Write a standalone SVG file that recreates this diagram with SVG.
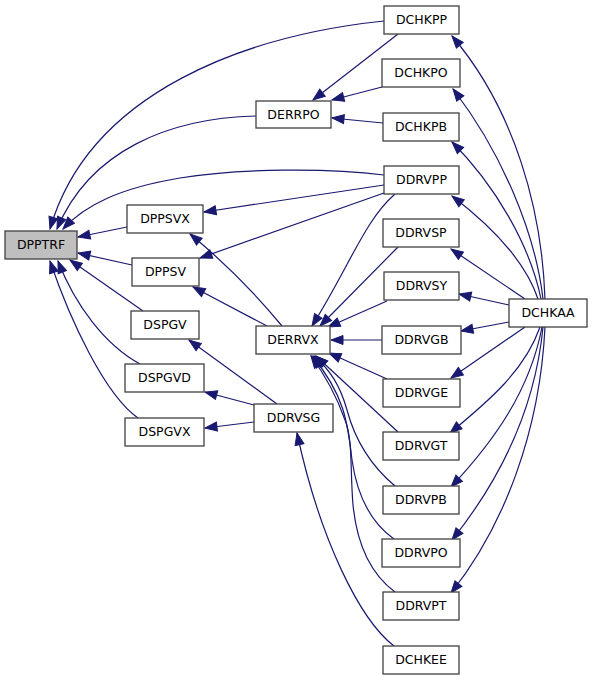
<svg xmlns="http://www.w3.org/2000/svg" width="592" height="680" viewBox="0 0 592 680">
<defs>
<style>
.n rect{fill:#ffffff;stroke:#404040;stroke-width:1.3}
.n text{font-family:"DejaVu Sans","Liberation Sans",sans-serif;font-size:12.5px;fill:#000;text-anchor:middle}
#n_DPPTRF rect{fill:#bfbfbf}
.e path{fill:none;stroke:#191970;stroke-width:1.2;marker-end:url(#ah)}
</style>
<marker id="ah" markerUnits="userSpaceOnUse" markerWidth="14" markerHeight="10" refX="12" refY="5" orient="auto" viewBox="0 0 14 10" overflow="visible">
<path d="M0,0.5 L12,5 L0,9.5 z" fill="#191970" stroke="#191970" stroke-width="1"/>
</marker>
</defs>
<rect width="592" height="680" fill="#ffffff"/>
<g id="edges" class="e">
<path d="M384,21 C250,35 90,90 50,229"/>
<path d="M256,116 C170,118 90,150 57,229"/>
<path d="M384,175 C330,168 240,168 180,178 C120,188 85,205 63,229"/>
<path d="M127,227 L78,237"/>
<path d="M132,265 L78,253"/>
<path d="M143,311 L70,260"/>
<path d="M140,364 C105,345 75,305 58,261"/>
<path d="M138,418 C105,395 70,320 50,261"/>
<path d="M398,34 L313,100"/>
<path d="M382,87 L332,100"/>
<path d="M383,123 L332,118"/>
<path d="M384,185 L204,212"/>
<path d="M282,326 Q240,275 190,234"/>
<path d="M384,193 L200,258"/>
<path d="M267,326 L193,287"/>
<path d="M277,404 L189,340"/>
<path d="M254,405 L205,392"/>
<path d="M254,422 L205,428"/>
<path d="M395,194 C365,220 350,265 312,326"/>
<path d="M398,247 L320,326"/>
<path d="M387,301 L328,327"/>
<path d="M382,340 L331,340"/>
<path d="M387,379 L329,353"/>
<path d="M398,432 L316,356"/>
<path d="M395,486 C370,465 355,440 347,410 C340,385 330,370 314,356"/>
<path d="M394,539 C370,522 357,495 352,460 C348,425 345,395 312,356"/>
<path d="M395,592 C372,575 357,545 353,505 C350,470 353,440 345,420 C338,400 325,375 311,356"/>
<path d="M394,646 C360,620 320,540 297,433"/>
<path d="M545,299 C542,210 515,110 452,36"/>
<path d="M543,299 C535,230 500,150 453,89"/>
<path d="M541,299 C530,245 495,185 452,142"/>
<path d="M538,299 C525,260 490,225 452,196"/>
<path d="M525,299 L451,249"/>
<path d="M509,305 L459,294"/>
<path d="M509,322 L461,331"/>
<path d="M525,327 L451,378"/>
<path d="M540,327 C525,370 490,400 450,433"/>
<path d="M542,327 C530,390 495,440 451,487"/>
<path d="M543,327 C535,410 500,480 452,540"/>
<path d="M545,327 C540,430 505,525 451,593"/>
</g>
<g id="n_DPPTRF" class="n"><rect x="5" y="231" width="72" height="28"/><text x="41" y="249">DPPTRF</text></g>
<g id="n_DPPSVX" class="n"><rect x="127" y="205" width="76" height="28"/><text x="165" y="223">DPPSVX</text></g>
<g id="n_DPPSV" class="n"><rect x="132" y="258" width="67" height="28"/><text x="165.5" y="276">DPPSV</text></g>
<g id="n_DSPGV" class="n"><rect x="131" y="311" width="68" height="28"/><text x="165" y="329">DSPGV</text></g>
<g id="n_DSPGVD" class="n"><rect x="125" y="364" width="79" height="28"/><text x="164.5" y="382">DSPGVD</text></g>
<g id="n_DSPGVX" class="n"><rect x="125" y="418" width="79" height="28"/><text x="164.5" y="436">DSPGVX</text></g>
<g id="n_DERRPO" class="n"><rect x="256" y="101" width="75" height="27"/><text x="293.5" y="118.5">DERRPO</text></g>
<g id="n_DERRVX" class="n"><rect x="256" y="326" width="74" height="28"/><text x="293" y="344">DERRVX</text></g>
<g id="n_DDRVSG" class="n"><rect x="254" y="404" width="79" height="28"/><text x="293.5" y="422">DDRVSG</text></g>
<g id="n_DCHKPP" class="n"><rect x="384" y="6" width="75" height="28"/><text x="421.5" y="24">DCHKPP</text></g>
<g id="n_DCHKPO" class="n"><rect x="382" y="59" width="78" height="28"/><text x="421" y="77">DCHKPO</text></g>
<g id="n_DCHKPB" class="n"><rect x="383" y="113" width="76" height="28"/><text x="421" y="131">DCHKPB</text></g>
<g id="n_DDRVPP" class="n"><rect x="384" y="166" width="75" height="28"/><text x="421.5" y="184">DDRVPP</text></g>
<g id="n_DDRVSP" class="n"><rect x="383" y="219" width="76" height="28"/><text x="421" y="237">DDRVSP</text></g>
<g id="n_DDRVSY" class="n"><rect x="384" y="272" width="75" height="28"/><text x="421.5" y="290">DDRVSY</text></g>
<g id="n_DDRVGB" class="n"><rect x="382" y="326" width="79" height="28"/><text x="421.5" y="344">DDRVGB</text></g>
<g id="n_DDRVGE" class="n"><rect x="383" y="379" width="77" height="28"/><text x="421.5" y="397">DDRVGE</text></g>
<g id="n_DDRVGT" class="n"><rect x="383" y="432" width="76" height="28"/><text x="421" y="450">DDRVGT</text></g>
<g id="n_DDRVPB" class="n"><rect x="383" y="486" width="76" height="28"/><text x="421" y="504">DDRVPB</text></g>
<g id="n_DDRVPO" class="n"><rect x="382" y="539" width="78" height="28"/><text x="421" y="557">DDRVPO</text></g>
<g id="n_DDRVPT" class="n"><rect x="383" y="592" width="76" height="28"/><text x="421" y="610">DDRVPT</text></g>
<g id="n_DCHKEE" class="n"><rect x="383" y="646" width="76" height="28"/><text x="421" y="664">DCHKEE</text></g>
<g id="n_DCHKAA" class="n"><rect x="509" y="299" width="78" height="28"/><text x="548" y="317">DCHKAA</text></g>
</svg>
